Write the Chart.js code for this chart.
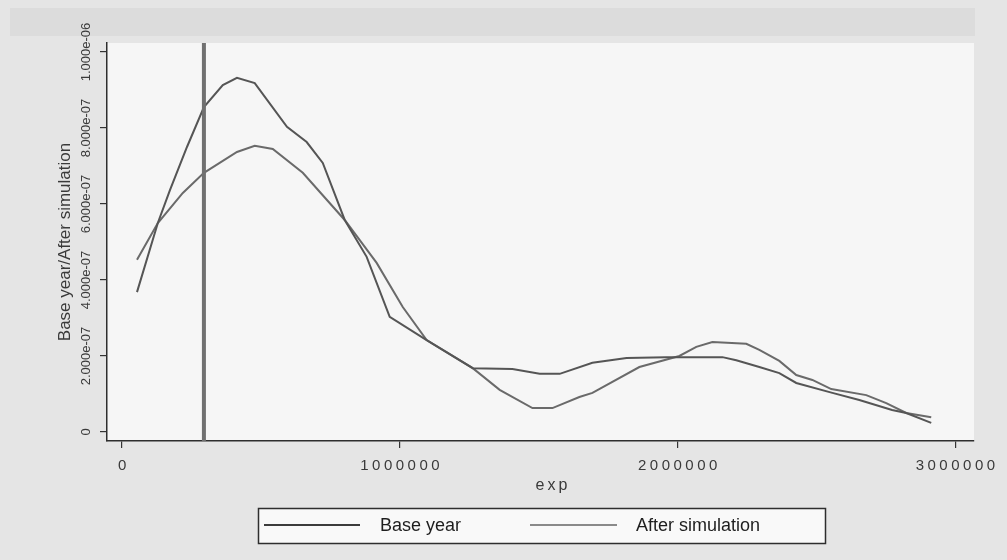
<!DOCTYPE html>
<html>
<head>
<meta charset="utf-8">
<script src="https://cdn.jsdelivr.net/npm/chart.js@4/dist/chart.umd.min.js"></script>
<style>
  html, body { margin: 0; padding: 0; background: #e5e5e5; }
  #wrap { width: 1007px; height: 560px; }
</style>
</head>
<body>
<div id="wrap"><canvas id="Kdens" width="1007" height="560"></canvas></div>
<script>
// kernel density of exp
let baseExp = [54000,129000,173000,234000,295000,363000,414000,478000,594000,665000,723000,802000,
  881000,964000,1097000,1263000,1406000,1504000,1576000,1694000,1817000,1960000,2162000,2212000,
  2295000,2367000,2428000,2558000,2655000,2773000,2824000,2914000];
let baseDens = [3.68e-7,5.50e-7,6.37e-7,7.50e-7,8.55e-7,9.13e-7,9.32e-7,9.18e-7,8.03e-7,7.63e-7,7.08e-7,5.58e-7,
  4.61e-7,3.03e-7,2.42e-7,1.68e-7,1.66e-7,1.53e-7,1.53e-7,1.82e-7,1.95e-7,1.97e-7,1.97e-7,1.89e-7,
  1.71e-7,1.55e-7,1.29e-7,1.03e-7,0.84e-7,0.58e-7,0.50e-7,0.24e-7];

let afterExp = [54000,129000,219000,295000,414000,478000,543000,651000,802000,917000,1011000,1097000,
  1263000,1360000,1478000,1550000,1647000,1694000,1863000,2007000,2068000,2126000,2248000,2295000,
  2367000,2428000,2486000,2554000,2680000,2752000,2824000,2914000];
let afterDens = [4.53e-7,5.50e-7,6.29e-7,6.82e-7,7.37e-7,7.53e-7,7.45e-7,6.82e-7,5.58e-7,4.45e-7,3.29e-7,2.42e-7,
  1.68e-7,1.11e-7,0.63e-7,0.63e-7,0.92e-7,1.03e-7,1.71e-7,2.00e-7,2.24e-7,2.37e-7,2.32e-7,2.16e-7,
  1.87e-7,1.50e-7,1.37e-7,1.13e-7,0.97e-7,0.76e-7,0.50e-7,0.39e-7];

let xTicks = [0, 1000000, 2000000, 3000000];
let yTicks = [0, 2e-7, 4e-7, 6e-7, 8e-7, 1e-6];
let yTickText = ['0', '2.000e-07', '4.000e-07', '6.000e-07', '8.000e-07', '1.000e-06'];

let seriesLabels = ['Base year', 'After simulation'];
let seriesColors = ['#555555', '#6a6a6a'];
let legendColors = ['#3c3c3c', '#8a8a8a'];
let xLine = [295000];
let yTitle = 'Base year/After simulation';
let xTitle = 'exp';

const FONT = '"Liberation Sans", Arial, sans-serif';

function toPoints(xs, ys) {
  return xs.map((x, i) => ({x: x, y: ys[i]}));
}

const stataLook = {
  id: 'stataLook',
  beforeDraw(chart) {
    const c = chart.ctx, a = chart.chartArea;
    c.save();
    c.fillStyle = '#e5e5e5';
    c.fillRect(0, 0, chart.width, chart.height);
    c.fillStyle = '#dcdcdc';
    c.fillRect(10, 8, 965, 28);
    c.fillStyle = '#f6f6f6';
    c.fillRect(a.left, a.top, a.right - a.left, a.bottom - a.top);
    c.restore();
  },
  afterDatasetsDraw(chart) {
    const c = chart.ctx, a = chart.chartArea, xs = chart.scales.x;
    c.save();
    c.strokeStyle = '#707070';
    c.lineWidth = 4;
    xLine.forEach(v => {
      const px = xs.getPixelForValue(v);
      c.beginPath();
      c.moveTo(px, a.top);
      c.lineTo(px, a.bottom);
      c.stroke();
    });
    c.restore();
  },
  afterDraw(chart) {
    const c = chart.ctx, a = chart.chartArea;
    const xs = chart.scales.x, ys = chart.scales.y;
    c.save();
    c.fillStyle = '#3a3a3a';

    // y tick labels, vertical like Stata
    c.font = '13px ' + FONT;
    c.textAlign = 'center';
    c.textBaseline = 'middle';
    yTicks.forEach((v, i) => {
      const py = ys.getPixelForValue(v);
      c.save();
      c.translate(86, py);
      c.rotate(-Math.PI / 2);
      c.fillText(yTickText[i], 0, 0);
      c.restore();
    });

    // y title
    c.save();
    c.font = '17px ' + FONT;
    c.translate(65, (a.top + a.bottom) / 2);
    c.rotate(-Math.PI / 2);
    c.fillText(yTitle, 0, 0);
    c.restore();

    // x tick labels
    c.font = '15px ' + FONT;
    c.letterSpacing = '3.5px';
    xTicks.forEach(v => {
      const px = xs.getPixelForValue(v);
      c.fillText(String(v), px + 2, 466);
    });
    c.font = '16px ' + FONT;
    c.letterSpacing = '3px';
    c.fillText(xTitle, 553, 486);
    c.letterSpacing = '0px';

    // legend
    c.fillStyle = '#f9f9f9';
    c.fillRect(258, 508, 568, 36);
    c.strokeStyle = '#2e2e2e';
    c.lineWidth = 1.5;
    c.strokeRect(258.5, 508.5, 567, 35);
    const items = [
      {x0: 264, x1: 360, tx: 380},
      {x0: 530, x1: 617, tx: 636}
    ];
    c.font = '18px ' + FONT;
    c.textAlign = 'left';
    items.forEach((it, i) => {
      c.strokeStyle = legendColors[i];
      c.lineWidth = 2;
      c.beginPath();
      c.moveTo(it.x0, 525);
      c.lineTo(it.x1, 525);
      c.stroke();
      c.fillStyle = '#1e1e1e';
      c.fillText(chart.data.datasets[i].label, it.tx, 526);
    });
    c.restore();
  }
};

const chart = new Chart(document.getElementById('Kdens'), {
  type: 'scatter',
  data: {
    datasets: [{
      label: seriesLabels[0],
      data: toPoints(baseExp, baseDens),
      showLine: true,
      borderColor: seriesColors[0],
      backgroundColor: seriesColors[0],
      borderWidth: 2,
      pointRadius: 0,
      tension: 0
    },
    {
      label: seriesLabels[1],
      data: toPoints(afterExp, afterDens),
      showLine: true,
      borderColor: seriesColors[1],
      backgroundColor: seriesColors[1],
      borderWidth: 2,
      pointRadius: 0,
      tension: 0
    }]
  },
  options: {
    responsive: false,
    animation: false,
    events: [],
    layout: { padding: { left: 0, top: 43, right: 33, bottom: 0 } },
    scales: {
      x: {
        type: 'linear',
        min: -54000,
        max: 3068000,
        afterFit: s => { s.height = 119; },
        afterBuildTicks: s => { s.ticks = xTicks.map(v => ({value: v})); },
        ticks: { display: false },
        grid: { display: true, drawOnChartArea: false, drawTicks: true, tickLength: 7, color: '#333', lineWidth: 1.2 },
        border: { display: true, color: '#2e2e2e', width: 1.5 }
      },
      y: {
        type: 'linear',
        min: -2.37e-8,
        max: 1.0237e-6,
        afterFit: s => { s.width = 107; },
        afterBuildTicks: s => { s.ticks = yTicks.map(v => ({value: v})); },
        ticks: { display: false },
        grid: { display: true, drawOnChartArea: false, drawTicks: true, tickLength: 7, color: '#333', lineWidth: 1.2 },
        border: { display: true, color: '#2e2e2e', width: 1.5 }
      }
    },
    plugins: {
      legend: { display: false },
      tooltip: { enabled: false },
      title: { display: false }
    }
  },
  plugins: [stataLook]
});
</script>
</body>
</html>
